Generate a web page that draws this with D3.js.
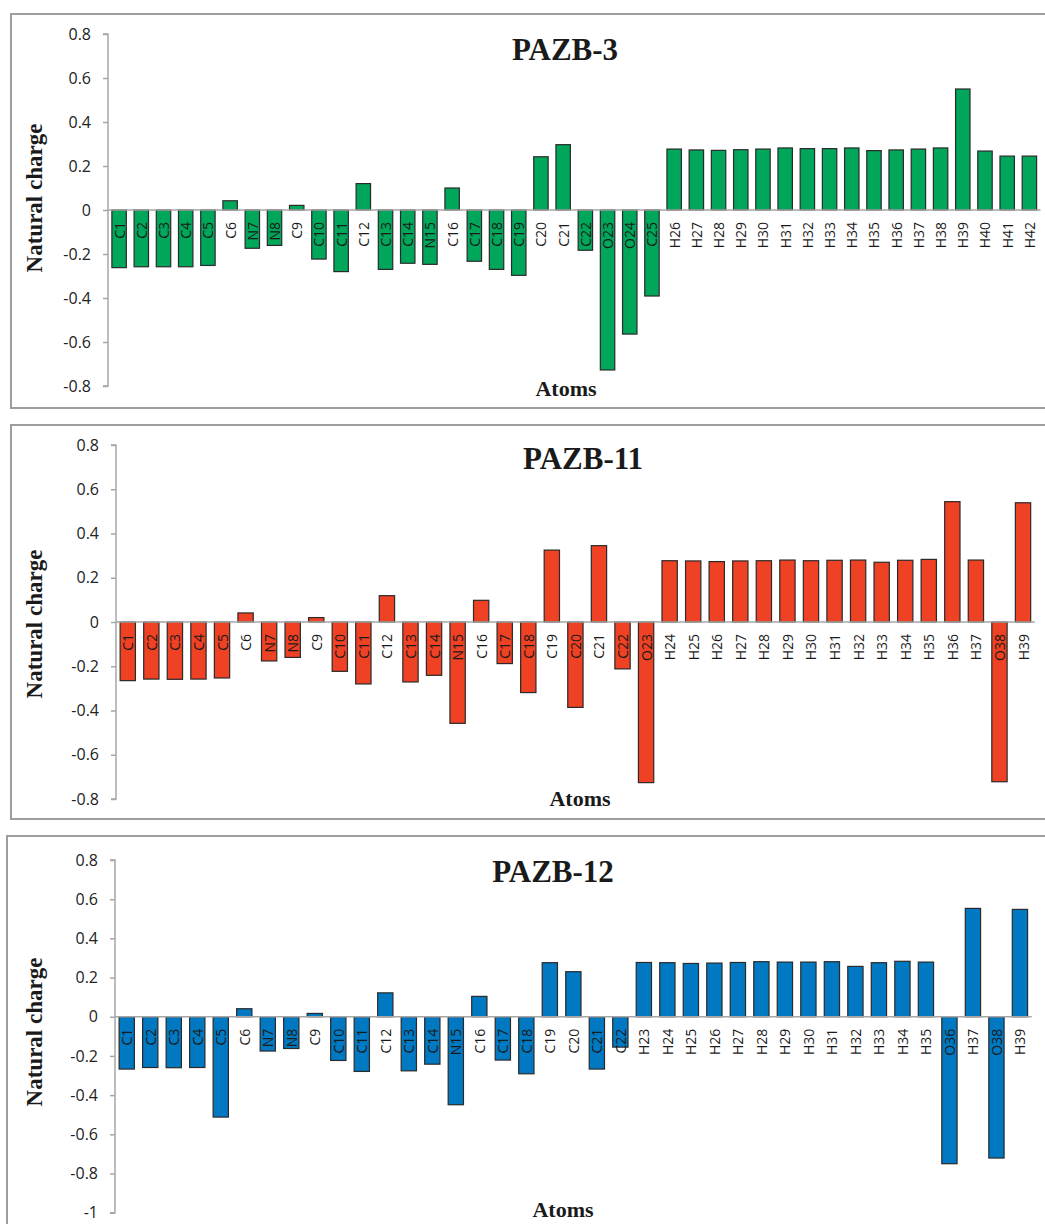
<!DOCTYPE html>
<html>
<head>
<meta charset="utf-8">
<script src="https://cdn.jsdelivr.net/npm/d3@7"></script>
<style>
  body { margin: 0; background: #fff; }
  svg { display: block; }
</style>
</head>
<body>
<svg id="chart"></svg>
<script>
////////////////////////////////////////////////////////////////////////////////
////////////////////////////////////////////////////////////////////////// Data
////////////////////////////////////////////////////////////////////////////////

// PAZB-3
const atoms3 = ["C1","C2","C3","C4","C5","C6","N7","N8","C9","C10","C11","C12",
  "C13","C14","N15","C16","C17","C18","C19","C20","C21","C22","O23","O24","C25",
  "H26","H27","H28","H29","H30","H31","H32","H33","H34","H35","H36","H37","H38",
  "H39","H40","H41","H42"];
const charges3 = [-0.262,-0.258,-0.258,-0.258,-0.252,0.042,-0.174,-0.161,0.021,
  -0.223,-0.280,0.120,-0.270,-0.242,-0.247,0.100,-0.233,-0.270,-0.297,0.242,
  0.297,-0.183,-0.727,-0.564,-0.391,0.277,0.273,0.271,0.274,0.277,0.282,0.279,
  0.279,0.282,0.270,0.273,0.277,0.282,0.550,0.268,0.245,0.245];

// PAZB-11
const atoms11 = ["C1","C2","C3","C4","C5","C6","N7","N8","C9","C10","C11","C12",
  "C13","C14","N15","C16","C17","C18","C19","C20","C21","C22","O23","H24","H25",
  "H26","H27","H28","H29","H30","H31","H32","H33","H34","H35","H36","H37","O38",
  "H39"];
const charges11 = [-0.265,-0.258,-0.259,-0.258,-0.253,0.041,-0.176,-0.160,0.020,
  -0.223,-0.280,0.119,-0.271,-0.241,-0.458,0.098,-0.188,-0.319,0.325,-0.386,
  0.345,-0.212,-0.726,0.277,0.276,0.273,0.276,0.277,0.280,0.277,0.279,0.280,
  0.270,0.279,0.283,0.544,0.280,-0.722,0.539];

// PAZB-12
const atoms12 = ["C1","C2","C3","C4","C5","C6","N7","N8","C9","C10","C11","C12",
  "C13","C14","N15","C16","C17","C18","C19","C20","C21","C22","H23","H24","H25",
  "H26","H27","H28","H29","H30","H31","H32","H33","H34","H35","O36","H37","O38",
  "H39"];
const charges12 = [-0.267,-0.259,-0.260,-0.259,-0.512,0.041,-0.175,-0.162,0.017,
  -0.223,-0.279,0.122,-0.276,-0.242,-0.449,0.104,-0.221,-0.291,0.276,0.230,
  -0.267,-0.155,0.277,0.276,0.272,0.274,0.277,0.281,0.279,0.279,0.281,0.257,
  0.276,0.283,0.279,-0.750,0.553,-0.721,0.548];

// Y-axis ticks
const yTicksShort = [-0.8,-0.6,-0.4,-0.2,0,0.2,0.4,0.6,0.8];
const yTicksLong = [-1,-0.8,-0.6,-0.4,-0.2,0,0.2,0.4,0.6,0.8];

////////////////////////////////////////////////////////////////////////////////
//////////////////////////////////////////////////////////////////// Panels
////////////////////////////////////////////////////////////////////////////////

const width = 1045;
const height = 1224;

const panels = [
  {
    title: "PAZB-3", atoms: atoms3, charges: charges3, ticks: yTicksShort,
    color: "#00a65a",
    frame: {x: 11, y: 14, h: 394},
    xRange: [108, 1040.5], yRange: [386, 34],
    titleX: 565, titleY: 60, atomsX: 566, atomsY: 396, yLabelY: 198
  },
  {
    title: "PAZB-11", atoms: atoms11, charges: charges11, ticks: yTicksShort,
    color: "#ef4123",
    frame: {x: 11, y: 425, h: 394},
    xRange: [116, 1034.8], yRange: [799, 445],
    titleX: 583, titleY: 469, atomsX: 580, atomsY: 806, yLabelY: 624
  },
  {
    title: "PAZB-12", atoms: atoms12, charges: charges12, ticks: yTicksLong,
    color: "#0079c2",
    frame: {x: 7, y: 836, h: 420},
    xRange: [115, 1031.7], yRange: [1212.7, 860],
    titleX: 553, titleY: 882, atomsX: 563, atomsY: 1217, yLabelY: 1032
  }
];

const svg = d3.select("#chart")
              .attr("width", width)
              .attr("height", height);

function drawPanel(p) {
  const g = svg.append("g");

  // Frame (right edge runs off the picture)
  g.append("rect")
     .attr("x", p.frame.x)
     .attr("y", p.frame.y)
     .attr("width", width + 20)
     .attr("height", p.frame.h)
     .attr("fill", "none")
     .attr("stroke", "#9d9d9d")
     .attr("stroke-width", 2);

  // Scales
  const xScale = d3.scaleBand()
                   .domain(p.atoms)
                   .range(p.xRange)
                   .paddingInner(0.35)
                   .paddingOuter(0.175);
  const yScale = d3.scaleLinear()
                   .domain(d3.extent(p.ticks))
                   .range(p.yRange);

  // Y-axis
  const yAxis = d3.axisLeft(yScale)
                  .tickValues(p.ticks)
                  .tickSize(5)
                  .tickPadding(12)
                  .tickFormat(function(d) {
                    return String(+d.toFixed(1));
                  });
  const yAxisG = g.append("g")
                    .attr("transform", `translate(${p.xRange[0]},0)`)
                    .call(yAxis);
  yAxisG.select(".domain")
          .attr("stroke", "#a6a6a6")
          .attr("stroke-width", 1.5)
          .attr("d", `M-5,${yScale.range()[1]}H0V${yScale.range()[0]}H-5`);
  yAxisG.selectAll(".tick line")
          .attr("stroke", "#a6a6a6")
          .attr("stroke-width", 1.5);
  yAxisG.selectAll(".tick text")
          .attr("fill", "#222")
          .style("font-family", "'Open Sans', sans-serif")
          .style("font-size", "16px");

  // Bars
  g.selectAll(".bar")
    .data(p.atoms)
    .join("rect")
      .attr("class", "bar")
      .attr("x", function(d) { return xScale(d); })
      .attr("width", xScale.bandwidth())
      .attr("y", function(d, i) { return yScale(Math.max(0, p.charges[i])); })
      .attr("height", function(d, i) {
        return Math.abs(yScale(p.charges[i]) - yScale(0));
      })
      .attr("fill", p.color)
      .attr("stroke", "#2a2a2a")
      .attr("stroke-width", 1.2);

  // Zero line
  g.append("line")
     .attr("x1", p.xRange[0])
     .attr("x2", p.xRange[1])
     .attr("y1", yScale(0))
     .attr("y2", yScale(0))
     .attr("stroke", "#a6a6a6")
     .attr("stroke-width", 1.5);

  // Atom labels
  g.selectAll(".atom")
    .data(p.atoms)
    .join("text")
      .attr("class", "atom")
      .attr("transform", function(d) {
        const cx = xScale(d) + xScale.bandwidth() / 2;
        return `translate(${cx},${yScale(0) + 12}) rotate(-90)`;
      })
      .attr("text-anchor", "end")
      .attr("dominant-baseline", "central")
      .attr("fill", "#1a1a1a")
      .style("font-family", "'Open Sans', sans-serif")
      .style("font-size", "14px")
      .text(function(d) { return d; });

  // Title
  g.append("text")
     .attr("x", p.titleX)
     .attr("y", p.titleY)
     .attr("text-anchor", "middle")
     .style("font-family", "'Liberation Serif', 'Times New Roman', serif")
     .style("font-weight", "bold")
     .style("font-size", "31px")
     .attr("fill", "#1a1a1a")
     .text(p.title);

  // Axis labels
  g.append("text")
     .attr("x", p.atomsX)
     .attr("y", p.atomsY)
     .attr("text-anchor", "middle")
     .style("font-family", "'Liberation Serif', 'Times New Roman', serif")
     .style("font-weight", "bold")
     .style("font-size", "22px")
     .attr("fill", "#1a1a1a")
     .text("Atoms");
  g.append("text")
     .attr("transform", `translate(42,${p.yLabelY}) rotate(-90)`)
     .attr("text-anchor", "middle")
     .style("font-family", "'Liberation Serif', 'Times New Roman', serif")
     .style("font-weight", "bold")
     .style("font-size", "23px")
     .attr("fill", "#1a1a1a")
     .text("Natural charge");
}

panels.forEach(drawPanel);
</script>
</body>
</html>
